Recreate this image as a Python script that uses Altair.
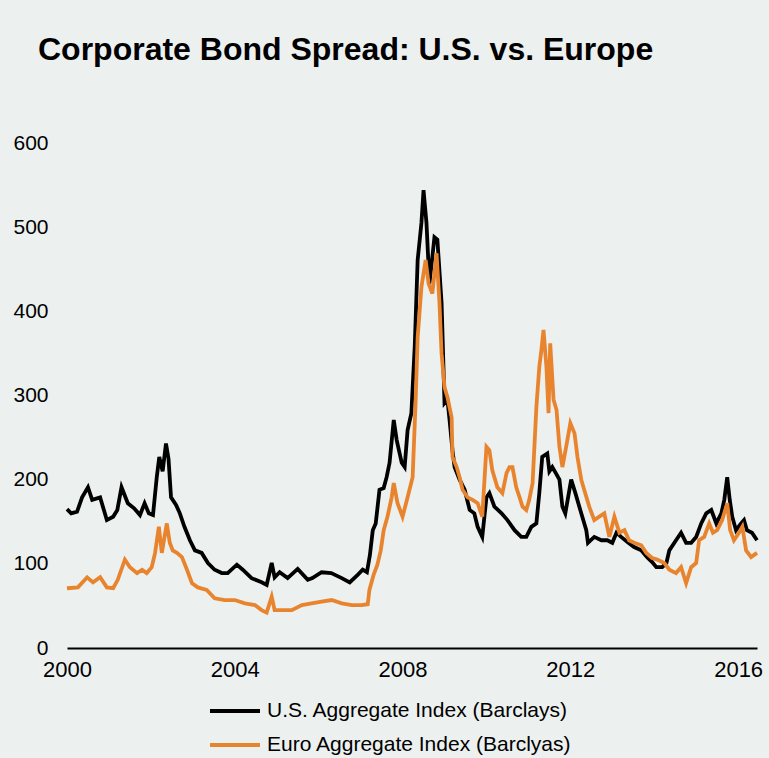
import altair as alt
import pandas as pd

# ---- data ----
series_names = ["U.S. Aggregate Index (Barclays)", "Euro Aggregate Index (Barclyas)"]
series_colors = ["#000000", "#E9842E"]
x_ticks = [2000, 2004, 2008, 2012, 2016]
y_ticks = [0, 100, 200, 300, 400, 500, 600]

us_year = [2000.00, 2000.10, 2000.24, 2000.36, 2000.50, 2000.60, 2000.79, 2000.95, 2001.10, 2001.20,
           2001.30, 2001.45, 2001.60, 2001.74, 2001.85, 2001.95, 2002.05, 2002.14, 2002.20, 2002.28,
           2002.36, 2002.42, 2002.48, 2002.60, 2002.69, 2002.80, 2002.93, 2003.05, 2003.21, 2003.36,
           2003.52, 2003.69, 2003.83, 2004.05, 2004.19, 2004.40, 2004.64, 2004.76, 2004.88, 2004.95,
           2005.07, 2005.26, 2005.50, 2005.74, 2005.85, 2006.07, 2006.30, 2006.55, 2006.74, 2006.93,
           2007.05, 2007.15, 2007.22, 2007.29, 2007.36, 2007.45, 2007.55, 2007.62, 2007.69, 2007.79,
           2007.86, 2007.98, 2008.05, 2008.12, 2008.21, 2008.29, 2008.36, 2008.45, 2008.50, 2008.57,
           2008.64, 2008.70, 2008.76, 2008.83, 2008.93, 2009.00, 2009.07, 2009.12, 2009.19, 2009.24,
           2009.36, 2009.48, 2009.60, 2009.71, 2009.79, 2009.90, 2010.00, 2010.07, 2010.19, 2010.36,
           2010.50, 2010.67, 2010.83, 2010.95, 2011.07, 2011.19, 2011.26, 2011.33, 2011.45, 2011.50,
           2011.57, 2011.65, 2011.74, 2011.81, 2011.88, 2012.02, 2012.12, 2012.26, 2012.38, 2012.42,
           2012.57, 2012.74, 2012.88, 2013.00, 2013.10, 2013.21, 2013.36, 2013.52, 2013.69, 2013.83,
           2013.95, 2014.05, 2014.19, 2014.29, 2014.36, 2014.52, 2014.64, 2014.76, 2014.88, 2015.00,
           2015.12, 2015.24, 2015.36, 2015.48, 2015.60, 2015.67, 2015.74, 2015.80, 2015.86, 2015.95,
           2016.07, 2016.14, 2016.21, 2016.33, 2016.45]
us_spread = [165, 160, 162, 179, 191, 176, 179, 152, 156, 164,
             191, 172, 166, 158, 172, 160, 158, 203, 227, 210,
             243, 225, 179, 170, 160, 144, 128, 116, 113, 101,
             93, 89, 89, 99, 93, 83, 78, 75, 101, 84,
             90, 83, 94, 81, 83, 90, 89, 83, 78, 87,
             93, 90, 110, 140, 148, 188, 190, 203, 220, 271,
             247, 220, 215, 259, 279, 358, 461, 505, 544, 505,
             433, 460, 488, 485, 410, 291, 295, 271, 235, 215,
             200, 188, 164, 160, 144, 132, 179, 184, 168, 160,
             152, 140, 132, 132, 144, 148, 184, 227, 231, 210,
             215, 208, 200, 168, 160, 200, 184, 160, 140, 125,
             132, 128, 128, 125, 137, 132, 126, 120, 116, 108,
             102, 96, 96, 101, 116, 128, 137, 125, 125, 132,
             148, 160, 164, 148, 160, 176, 203, 176, 156, 140,
             148, 152, 140, 137, 128]

eu_year = [2000.00, 2000.26, 2000.48, 2000.62, 2000.79, 2000.95, 2001.10, 2001.21, 2001.38, 2001.50,
           2001.67, 2001.79, 2001.90, 2002.02, 2002.10, 2002.19, 2002.26, 2002.38, 2002.45, 2002.52,
           2002.62, 2002.74, 2002.86, 2002.98, 2003.12, 2003.33, 2003.52, 2003.76, 2004.00, 2004.24,
           2004.48, 2004.64, 2004.76, 2004.88, 2004.95, 2005.12, 2005.36, 2005.60, 2005.83, 2006.07,
           2006.31, 2006.55, 2006.79, 2007.02, 2007.17, 2007.21, 2007.31, 2007.40, 2007.48, 2007.55,
           2007.64, 2007.74, 2007.79, 2007.88, 2008.00, 2008.12, 2008.24, 2008.31, 2008.36, 2008.45,
           2008.55, 2008.62, 2008.71, 2008.81, 2008.88, 2008.93, 2009.00, 2009.07, 2009.17, 2009.19,
           2009.29, 2009.36, 2009.43, 2009.55, 2009.67, 2009.79, 2009.90, 2010.00, 2010.07, 2010.14,
           2010.26, 2010.38, 2010.48, 2010.55, 2010.62, 2010.71, 2010.79, 2010.86, 2010.95, 2011.02,
           2011.10, 2011.19, 2011.26, 2011.31, 2011.36, 2011.43, 2011.48, 2011.52, 2011.60, 2011.67,
           2011.74, 2011.81, 2011.90, 2012.00, 2012.10, 2012.17, 2012.26, 2012.33, 2012.45, 2012.57,
           2012.69, 2012.81, 2012.93, 2013.05, 2013.17, 2013.29, 2013.40, 2013.52, 2013.69, 2013.81,
           2013.95, 2014.07, 2014.24, 2014.36, 2014.52, 2014.64, 2014.76, 2014.88, 2015.00, 2015.07,
           2015.19, 2015.31, 2015.40, 2015.50, 2015.62, 2015.74, 2015.81, 2015.90, 2016.02, 2016.10,
           2016.19, 2016.31, 2016.45]
eu_spread = [71, 72, 84, 78, 84, 72, 71, 81, 105, 96,
             89, 93, 89, 96, 113, 144, 113, 148, 125, 116,
             113, 108, 93, 77, 72, 69, 59, 57, 57, 53,
             51, 45, 42, 61, 45, 45, 45, 51, 53, 55,
             57, 53, 51, 51, 52, 69, 87, 99, 116, 140,
             156, 179, 196, 172, 156, 179, 203, 291, 369, 429,
             461, 433, 421, 469, 410, 350, 310, 298, 274, 227,
             215, 203, 188, 179, 176, 172, 156, 239, 235, 211,
             191, 184, 208, 215, 215, 191, 179, 168, 164, 176,
             196, 286, 334, 354, 378, 334, 279, 362, 295, 283,
             239, 215, 239, 267, 255, 227, 200, 188, 168, 152,
             156, 160, 132, 156, 137, 140, 128, 125, 122, 113,
             107, 105, 101, 93, 89, 96, 77, 96, 101, 128,
             132, 148, 137, 140, 152, 172, 140, 128, 137, 144,
             116, 108, 113]

df_us = pd.DataFrame({"year": us_year, "spread": us_spread, "series": series_names[0]})
df_eu = pd.DataFrame({"year": eu_year, "spread": eu_spread, "series": series_names[1]})

FONT = "Liberation Sans"

x_enc = alt.X(
    "year:Q",
    scale=alt.Scale(domain=[2000, 2016.45], nice=False, zero=False),
    axis=alt.Axis(values=x_ticks, format="d", title=None, grid=False, ticks=False,
                  domain=True, domainColor="#000000", domainWidth=2,
                  labelFontSize=22, labelFont=FONT, labelColor="#000000",
                  labelPadding=11, labelOverlap=False, labelBound=False, labelFlush=False),
)
y_enc = alt.Y(
    "spread:Q",
    scale=alt.Scale(domain=[0, 600], nice=False),
    axis=alt.Axis(values=y_ticks, title=None, grid=False, ticks=False, domain=False,
                  labelFontSize=21, labelFont=FONT, labelColor="#000000",
                  labelPadding=19, labelOverlap=False),
)
color_enc = alt.Color(
    "series:N",
    scale=alt.Scale(domain=series_names, range=series_colors),
    legend=alt.Legend(
        title=None, orient="none", legendX=157.5, legendY=557.5, direction="vertical",
        padding=0, rowPadding=12, labelOffset=21.5, labelFontSize=21, labelFont=FONT,
        labelColor="#000000", labelLimit=0, symbolType="M-5,0H5", symbolSize=100,
        symbolStrokeWidth=4,
    ),
)

us_line = alt.Chart(df_us).mark_line(strokeWidth=3.8).encode(x=x_enc, y=y_enc, color=color_enc)
eu_line = alt.Chart(df_eu).mark_line(strokeWidth=3.8).encode(x=x_enc, y=y_enc, color=color_enc)

chart = alt.layer(us_line, eu_line).properties(
    width=690,
    height=505,
    title=alt.TitleParams(
        text="Corporate Bond Spread: U.S. vs. Europe", font=FONT, fontSize=32,
        fontWeight="bold", color="#000000", anchor="start", frame="group",
        dx=-29, offset=40, baseline="alphabetic",
    ),
    background="#ECF0EF",
    padding={"left": 67, "top": 143, "right": 12, "bottom": 110},
    autosize=alt.AutoSizeParams(type="none"),
).configure_view(stroke=None)

chart.save("out.html", embed_options={"renderer": "svg", "actions": False})
